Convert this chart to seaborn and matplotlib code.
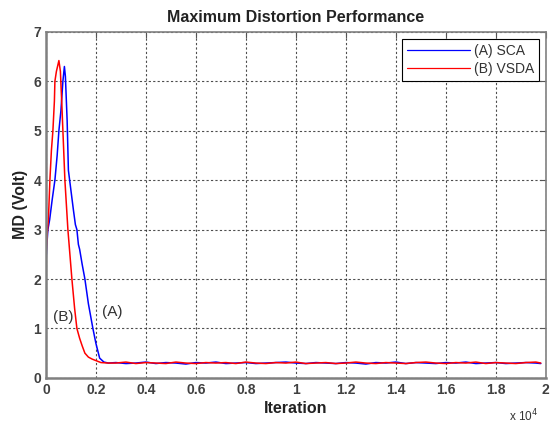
import pandas as pd
import seaborn as sns
import matplotlib
matplotlib.use('Agg')
import matplotlib.pyplot as plt
from matplotlib.ticker import FuncFormatter

# start-up part of each curve (iteration, MD in volt)
sca_iter = [0, 40, 80, 150, 250, 360, 450, 520, 600, 680, 740, 780, 850, 900,
            1000, 1100, 1180, 1240, 1300, 1350, 1450, 1560, 1700, 1880, 2000, 2150, 2320, 2500]
sca_md = [2.3, 2.7, 3.0, 3.2, 3.6, 4.0, 4.5, 5.0, 5.4, 6.0, 6.3, 6.1, 5.2, 4.2,
          3.8, 3.4, 3.1, 3.0, 2.7, 2.6, 2.3, 2.0, 1.5, 1.0, 0.7, 0.4, 0.32, 0.30]

vsda_iter = [0, 50, 100, 160, 220, 280, 340, 360, 420, 520, 580, 640, 680, 760,
             880, 1040, 1150, 1240, 1350, 1450, 1560, 1700, 1850, 2000, 2200, 2500]
vsda_md = [2.4, 2.9, 3.2, 4.0, 4.6, 5.0, 5.6, 6.0, 6.2, 6.42, 6.2, 5.5, 5.0, 4.0,
           3.0, 2.0, 1.4, 1.0, 0.8, 0.65, 0.5, 0.42, 0.38, 0.35, 0.31, 0.30]

# steady-state part
flat_iter = [2800, 3200, 3600, 4000, 4400, 4800, 5200, 5600, 6000, 6400, 6800,
             7200, 7600, 8000, 8400, 8800, 9200, 9600, 10000, 10400, 10800, 11200,
             11600, 12000, 12400, 12800, 13200, 13600, 14000, 14400, 14800, 15200,
             15600, 16000, 16400, 16800, 17200, 17600, 18000, 18400, 18800, 19200,
             19600, 19800]
sca_flat = [0.31, 0.29, 0.30, 0.32, 0.29, 0.31, 0.30, 0.28, 0.31, 0.30,
            0.32, 0.29, 0.30, 0.31, 0.29, 0.30, 0.31, 0.32, 0.30, 0.29,
            0.31, 0.30, 0.29, 0.31, 0.30, 0.28, 0.31, 0.30, 0.32, 0.29,
            0.31, 0.30, 0.29, 0.31, 0.30, 0.32, 0.29, 0.30, 0.31, 0.29,
            0.30, 0.31, 0.30, 0.29]
vsda_flat = [0.30, 0.32, 0.29, 0.31, 0.30, 0.29, 0.32, 0.30, 0.29, 0.31,
             0.30, 0.31, 0.29, 0.32, 0.30, 0.29, 0.31, 0.30, 0.32, 0.29,
             0.30, 0.31, 0.29, 0.30, 0.32, 0.30, 0.29, 0.31, 0.30, 0.29,
             0.31, 0.32, 0.30, 0.29, 0.31, 0.30, 0.32, 0.29, 0.31, 0.30,
             0.29, 0.31, 0.32, 0.30]

x_ticks = [0, 2000, 4000, 6000, 8000, 10000, 12000, 14000, 16000, 18000, 20000]
x_tick_labels = ['0', '0.2', '0.4', '0.6', '0.8', '1', '1.2', '1.4', '1.6', '1.8', '2']

sca = pd.DataFrame({'Iteration': sca_iter + flat_iter, 'MD': sca_md + sca_flat})
sca['Method'] = '(A) SCA'
vsda = pd.DataFrame({'Iteration': vsda_iter + flat_iter, 'MD': vsda_md + vsda_flat})
vsda['Method'] = '(B) VSDA'
df = pd.concat([sca, vsda], ignore_index=True)

sns.set_style('white')
plt.rcParams['font.family'] = ['Liberation Sans', 'DejaVu Sans']

fig, ax = plt.subplots(figsize=(5.53, 4.43), dpi=100)
fig.subplots_adjust(left=0.083, right=0.987, top=0.928, bottom=0.147)

sns.lineplot(data=df, x='Iteration', y='MD', hue='Method', estimator=None,
             palette={'(A) SCA': 'blue', '(B) VSDA': 'red'}, linewidth=1.1, ax=ax)

ax.set_xlim(0, 20000)
ax.set_ylim(0, 7)
ax.set_xticks(x_ticks)
ax.xaxis.set_major_formatter(FuncFormatter(lambda v, p: x_tick_labels[x_ticks.index(int(round(v)))]
                                           if int(round(v)) in x_ticks else ''))
ax.set_yticks(range(0, 8))

ax.grid(True, linestyle=(0, (2, 2)), color='#222222', linewidth=0.8, alpha=0.8)
ax.tick_params(direction='in', top=True, right=True, length=4, labelsize=10,
               labelcolor='#404040', color='#555555')
for lab in ax.get_xticklabels() + ax.get_yticklabels():
    lab.set_fontweight('bold')
for s in ax.spines.values():
    s.set_color('#808080')
    s.set_linewidth(1.2)
ax.spines['left'].set_linewidth(1.8)
ax.spines['bottom'].set_linewidth(1.8)

ax.set_title('Maximum Distortion Performance', fontsize=11.5, fontweight='bold', color='#222222', pad=7)
ax.set_xlabel('Iteration', fontsize=11.5, fontweight='bold', color='#222222', labelpad=3)
ax.set_ylabel('MD (Volt)', fontsize=11.5, fontweight='bold', color='#222222', labelpad=4)
ax.text(0.985, -0.11, r'x 10$^4$', transform=ax.transAxes, ha='right', va='center',
        fontsize=8.5, color='#333333')

ax.text(680, 1.23, '(B)', ha='center', va='center', fontsize=11, color='#333333')
ax.text(2640, 1.33, '(A)', ha='center', va='center', fontsize=11, color='#333333')

leg = ax.legend(loc='upper right', fontsize=10, frameon=True, fancybox=False,
                framealpha=1, edgecolor='black', handlelength=4.5, borderaxespad=0.5,
                borderpad=0.35, labelspacing=0.3, handletextpad=0.3)
leg.get_frame().set_linewidth(0.8)
for line in leg.get_lines():
    line.set_linewidth(0.9)
for t in leg.get_texts():
    t.set_color('#333333')

fig.savefig('out.png', dpi=100)
